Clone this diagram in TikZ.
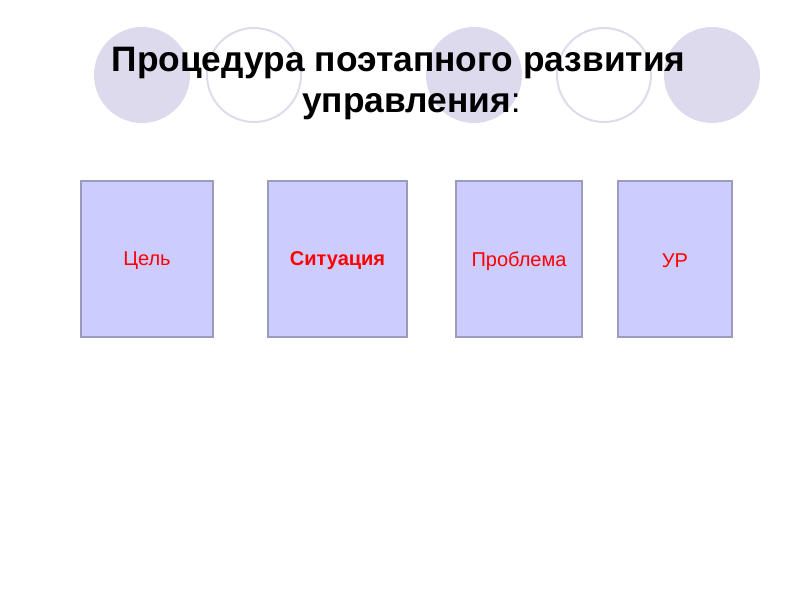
\documentclass[tikz,border=0pt]{standalone}
\usepackage{fontspec}
\setmainfont{Liberation Sans}
\begin{document}
\begin{tikzpicture}[x=0.75pt,y=-0.75pt,
  deco/.style={fill=circfill,draw=none},
  ring/.style={draw=circline,line width=1.5pt},
  stagebox/.style={draw=boxline,fill=boxfill,line width=1.2pt,minimum width=#1*0.75pt,minimum height=156*0.75pt,inner sep=0pt},
  stagetext/.style={text=red,font=\fontsize{15}{18}\selectfont},
  titletext/.style={font=\fontsize{26.5}{32}\selectfont\bfseries,anchor=base,inner sep=0pt}]
\definecolor{circfill}{HTML}{DCDAEC}
\definecolor{circline}{HTML}{DCDCEC}
\definecolor{boxfill}{HTML}{CCCCFF}
\definecolor{boxline}{HTML}{9B9BBB}
\useasboundingbox (0,0) rectangle (800,600);
% decorative circles
\fill[deco] (142,75) circle (48);
\draw[ring] (254,75) circle (47);
\fill[deco] (474,75) circle (48);
\draw[ring] (604,75) circle (47);
\fill[deco] (712,75) circle (48);
% title
\node[titletext] (t1) at (398.5,71) {Процедура поэтапного развития};
\node[titletext] (t2) at (411.5,112) {управления\mdseries:};
% boxes
\node[stagebox=132] (b1) at (147,259) {};
\node[stagebox=139] (b2) at (337.5,259) {};
\node[stagebox=126] (b3) at (519,259) {};
\node[stagebox=114] (b4) at (675,259) {};
\node[stagetext] at ([yshift=-1.5pt]b1) {Цель};
\node[stagetext,font=\fontsize{15}{18}\selectfont\bfseries] at ([yshift=-1.5pt]b2) {Ситуация};
\node[stagetext] at ([yshift=-1.5pt]b3) {Проблема};
\node[stagetext] at ([yshift=-1.5pt]b4) {УР};
\end{tikzpicture}
\end{document}
